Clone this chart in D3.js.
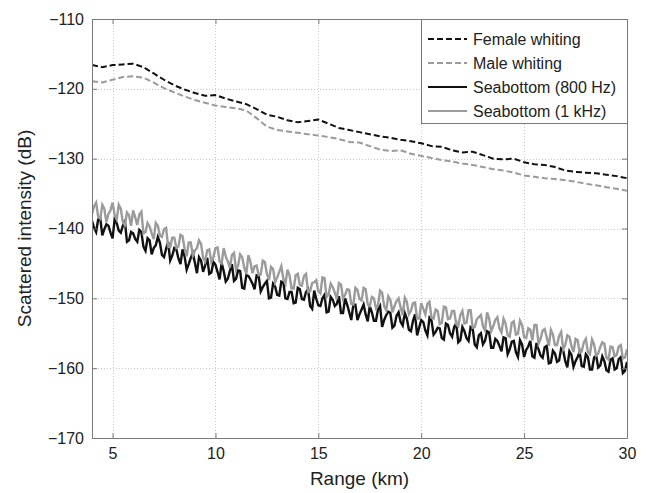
<!DOCTYPE html>
<html>
<head>
<meta charset="utf-8">
<script src="https://cdn.jsdelivr.net/npm/d3@7"></script>
<style>
  body { margin: 0; background: #fff; }
  text { font-family: "Liberation Sans", Arial, Helvetica, sans-serif; fill: #222; }
</style>
</head>
<body>
<div id="canvas"></div>
<script>
// dimensions
const width = 646;
const height = 493;
const margins = {top: 19, right: 19, bottom: 55, left: 92};
const dataWidth = width - margins.left - margins.right;
const dataHeight = height - margins.top - margins.bottom;

// data
const xTicks = [5, 10, 15, 20, 25, 30];
const yTicks = [-170, -160, -150, -140, -130, -120, -110];
const seriesNames = ["Female whiting", "Male whiting", "Seabottom (800 Hz)", "Seabottom (1 kHz)"];

// whiting curves sampled every 0.5 km from 4 to 30 km
const whitingStart = 4, whitingStep = 0.5;
const femaleWhiting = [
  -116.6, -116.9, -116.6, -116.5, -116.4, -116.9, -117.8, -118.7, -119.5, -120.1,
  -120.6, -121.0, -120.9, -121.4, -121.8, -122.2, -122.9, -123.7, -124.0, -124.5,
  -124.8, -124.6, -124.4, -125.0, -125.6, -125.9, -126.2, -126.5, -126.8, -127.0,
  -127.3, -127.5, -127.8, -128.2, -128.3, -128.8, -129.1, -129.0, -129.5, -130.0,
  -130.1, -130.0, -130.5, -130.8, -130.9, -131.2, -131.7, -131.9, -132.0, -132.1,
  -132.3, -132.5, -132.8
];
const maleWhiting = [
  -118.9, -119.1, -118.7, -118.3, -118.2, -118.4, -119.1, -119.9, -120.5, -121.1,
  -121.6, -122.0, -122.4, -122.6, -122.8, -123.1, -124.2, -125.4, -125.9, -126.1,
  -126.3, -126.5, -126.7, -126.9, -127.2, -127.6, -127.7, -128.2, -128.7, -128.9,
  -128.8, -129.3, -129.6, -129.9, -130.2, -130.4, -130.7, -130.9, -131.2, -131.5,
  -131.7, -132.0, -132.4, -132.6, -132.8, -132.9, -133.1, -133.3, -133.6, -133.8,
  -134.1, -134.3, -134.6
];

// seabottom curves sampled every 0.1 km from 4 to 30 km
const seaStart = 4, seaStep = 0.1;
const seabottom800 = [
  -138.9, -139.9, -140.5, -138.7, -138.5, -141.0, -140.1, -139.4, -139.6, -140.6,
  -141.4, -138.7, -139.2, -140.3, -140.6, -139.6, -139.0, -141.9, -141.7, -140.5,
  -140.7, -141.5, -141.9, -140.2, -140.5, -142.6, -143.2, -141.4, -141.7, -143.7,
  -142.8, -142.4, -141.2, -142.0, -143.8, -144.1, -142.9, -141.9, -144.6, -143.9,
  -142.8, -143.0, -144.3, -145.1, -143.0, -144.0, -145.9, -145.1, -144.2, -143.5,
  -144.9, -146.4, -144.1, -144.6, -146.2, -145.3, -144.2, -146.5, -146.3, -144.8,
  -145.2, -146.2, -147.3, -144.9, -146.1, -147.6, -147.2, -146.1, -145.1, -147.5,
  -147.2, -146.0, -146.1, -148.5, -148.6, -146.7, -146.8, -147.3, -147.9, -148.7,
  -146.7, -146.8, -149.0, -148.4, -147.9, -147.5, -150.0, -149.9, -147.9, -148.3,
  -149.5, -149.6, -147.6, -147.7, -150.0, -150.1, -149.1, -149.1, -150.7, -150.6,
  -148.5, -148.7, -150.1, -150.2, -149.1, -148.7, -151.1, -151.5, -148.9, -150.1,
  -151.0, -151.1, -150.0, -149.5, -152.0, -151.9, -149.8, -150.2, -151.1, -150.8,
  -149.7, -152.1, -152.1, -150.0, -150.9, -152.0, -153.1, -150.9, -150.9, -153.1,
  -152.3, -151.6, -150.9, -152.3, -153.3, -151.1, -152.0, -153.2, -153.2, -151.6,
  -151.1, -154.1, -153.1, -152.4, -151.9, -152.1, -154.2, -153.9, -152.5, -152.0,
  -153.4, -153.9, -152.1, -152.9, -154.5, -154.7, -153.2, -152.3, -155.3, -154.2,
  -153.1, -153.4, -154.6, -155.3, -152.8, -153.2, -155.2, -154.8, -154.2, -154.3,
  -155.7, -155.9, -153.6, -153.8, -155.0, -155.5, -154.1, -153.6, -156.3, -156.0,
  -154.1, -154.7, -155.7, -156.1, -154.1, -154.3, -156.6, -157.0, -155.3, -155.0,
  -156.6, -156.1, -154.7, -154.9, -157.1, -157.1, -155.8, -156.1, -156.8, -157.6,
  -155.6, -155.7, -158.0, -157.3, -156.2, -156.1, -157.7, -158.4, -156.0, -156.6,
  -158.4, -157.4, -156.9, -156.1, -158.3, -158.5, -156.4, -157.3, -158.2, -158.5,
  -157.0, -156.8, -159.3, -159.2, -157.5, -157.9, -159.1, -158.9, -157.2, -157.5,
  -159.0, -159.9, -157.6, -158.1, -159.8, -159.0, -158.4, -157.7, -159.7, -159.8,
  -158.0, -158.4, -160.2, -160.2, -158.5, -158.2, -159.9, -159.6, -158.3, -159.0,
  -160.3, -160.5, -158.8, -158.6, -160.2, -160.0, -158.7, -158.4, -160.7, -160.4,
  -159.1
];
const seabottom1k = [
  -137.9, -136.8, -136.3, -138.3, -138.6, -136.6, -137.2, -139.1, -137.9, -137.4,
  -136.3, -138.1, -138.7, -136.6, -137.2, -139.1, -139.5, -137.7, -138.1, -139.6,
  -137.4, -138.4, -139.5, -138.0, -137.6, -140.7, -140.5, -139.2, -139.7, -140.7,
  -141.5, -139.2, -139.6, -141.0, -141.2, -140.1, -139.9, -142.6, -142.7, -141.3,
  -141.3, -142.8, -142.6, -140.9, -141.1, -142.9, -144.0, -142.0, -142.0, -143.9,
  -143.2, -142.8, -141.7, -142.2, -144.2, -144.7, -143.1, -143.0, -144.8, -144.1,
  -142.8, -142.7, -144.7, -145.0, -142.8, -144.0, -144.7, -145.6, -143.8, -143.5,
  -145.9, -145.3, -143.7, -144.1, -145.6, -146.5, -143.8, -144.8, -146.4, -145.4,
  -145.3, -146.7, -146.6, -144.6, -144.8, -146.5, -147.4, -145.5, -145.8, -147.7,
  -147.0, -146.2, -145.4, -147.2, -147.9, -145.9, -146.7, -148.6, -148.6, -146.7,
  -146.5, -148.1, -148.2, -146.8, -146.5, -149.1, -149.0, -147.8, -147.7, -147.4,
  -149.0, -149.3, -147.0, -147.1, -149.8, -149.4, -147.9, -148.4, -149.2, -150.1,
  -147.8, -148.0, -150.1, -149.5, -148.7, -148.8, -150.8, -150.9, -148.5, -148.8,
  -150.1, -150.3, -148.5, -148.7, -150.9, -151.1, -149.8, -150.0, -151.4, -151.0,
  -148.9, -149.2, -151.1, -151.7, -149.7, -150.2, -152.0, -151.1, -150.4, -150.0,
  -151.3, -152.4, -149.9, -150.5, -152.3, -151.8, -150.7, -150.6, -152.9, -152.9,
  -150.7, -151.5, -152.3, -150.8, -150.5, -152.8, -152.9, -151.6, -151.8, -153.7,
  -153.5, -151.2, -151.3, -153.0, -152.9, -151.8, -151.8, -153.7, -154.0, -152.4,
  -151.8, -153.6, -153.5, -151.7, -151.7, -154.2, -154.1, -153.0, -152.7, -152.4,
  -154.0, -154.6, -152.0, -152.9, -154.7, -154.0, -153.1, -152.7, -154.3, -154.9,
  -152.9, -153.6, -155.3, -155.5, -153.5, -153.3, -155.2, -155.1, -153.2, -153.8,
  -155.6, -155.7, -154.3, -154.5, -156.0, -153.8, -153.8, -156.5, -155.8, -154.6,
  -154.4, -155.6, -156.8, -154.5, -155.2, -156.7, -156.7, -155.4, -154.8, -157.3,
  -156.7, -155.3, -155.5, -156.8, -157.7, -155.8, -156.0, -157.8, -157.6, -156.3,
  -155.8, -157.7, -158.0, -155.9, -156.6, -158.2, -157.9, -157.0, -156.3, -156.5,
  -158.5, -158.8, -156.9, -157.0, -158.3, -158.1, -156.9, -156.7, -158.6, -158.5,
  -157.3
];

function toPoints(values, start, step) {
  return values.map((v, i) => ({km: start + i * step, db: v}));
}

const svg = d3.select("#canvas").append("svg")
  .attr("width", width)
  .attr("height", height);

const dataArea = svg.append("g")
  .attr("transform", `translate(${margins.left}, ${margins.top})`);

const x = d3.scaleLinear().domain([4, 30]).range([0, dataWidth]);
const y = d3.scaleLinear().domain([-170, -110]).range([dataHeight, 0]);

// grid (dotted)
const grid = dataArea.append("g")
  .attr("stroke", "#c8c8c8")
  .attr("stroke-width", 1)
  .attr("stroke-dasharray", "1,2");
grid.selectAll(".gx").data(xTicks).enter().append("line")
  .attr("x1", d => Math.round(x(d)) + 0.5).attr("x2", d => Math.round(x(d)) + 0.5)
  .attr("y1", 0).attr("y2", dataHeight);
grid.selectAll(".gy").data(yTicks).enter().append("line")
  .attr("y1", d => Math.round(y(d)) + 0.5).attr("y2", d => Math.round(y(d)) + 0.5)
  .attr("x1", 0).attr("x2", dataWidth);

// clip
svg.append("clipPath").attr("id", "clip")
  .append("rect").attr("width", dataWidth).attr("height", dataHeight);

const line = d3.line()
  .x(d => x(d.km))
  .y(d => y(d.db));

const lines = dataArea.append("g").attr("clip-path", "url(#clip)");

const styles = [
  {color: "#111", dash: "6,3", w: 2},
  {color: "#9b9b9b", dash: "6,3", w: 2},
  {color: "#111", dash: null, w: 2.4},
  {color: "#9b9b9b", dash: null, w: 2.4}
];
const curves = [
  toPoints(femaleWhiting, whitingStart, whitingStep),
  toPoints(maleWhiting, whitingStart, whitingStep),
  toPoints(seabottom800, seaStart, seaStep),
  toPoints(seabottom1k, seaStart, seaStep)
];

curves.forEach((pts, i) => {
  lines.append("path")
    .datum(pts)
    .attr("fill", "none")
    .attr("stroke", styles[i].color)
    .attr("stroke-width", styles[i].w)
    .attr("stroke-linejoin", "miter")
    .attr("stroke-dasharray", styles[i].dash)
    .attr("d", line);
});

// axes (MATLAB box style, ticks inside)
const tickLen = 5;
const xAxisGroup = dataArea.append("g")
  .attr("transform", `translate(0, ${dataHeight})`)
  .call(d3.axisBottom(x).tickValues(xTicks).tickSize(-tickLen).tickPadding(10).tickSizeOuter(0));
const yAxisGroup = dataArea.append("g")
  .call(d3.axisLeft(y).tickValues(yTicks).tickSize(-tickLen).tickPadding(8).tickSizeOuter(0));
const xTop = dataArea.append("g")
  .call(d3.axisTop(x).tickValues(xTicks).tickSize(-tickLen).tickFormat("").tickSizeOuter(0));
const yRight = dataArea.append("g")
  .attr("transform", `translate(${dataWidth}, 0)`)
  .call(d3.axisRight(y).tickValues(yTicks).tickSize(-tickLen).tickFormat("").tickSizeOuter(0));

[xAxisGroup, yAxisGroup, xTop, yRight].forEach(g => {
  g.selectAll("path, line").attr("stroke", "#7a7a7a");
  g.selectAll("text")
    .attr("font-size", 16)
    .attr("font-family", "'Liberation Sans', Arial, sans-serif")
    .attr("fill", "#222");
});

// X axis label
svg.append("text")
  .attr("text-anchor", "middle")
  .attr("x", margins.left + dataWidth / 2)
  .attr("y", 485)
  .attr("font-size", 19)
  .text("Range (km)");

// Y axis label
svg.append("text")
  .attr("text-anchor", "middle")
  .attr("x", 31)
  .attr("y", margins.top + dataHeight / 2)
  .attr("font-size", 19)
  .attr("transform", `rotate(-90, 31, ${margins.top + dataHeight / 2})`)
  .text("Scattered intensity (dB)");

// legend
const legend = svg.append("g")
  .attr("transform", `translate(${margins.left + x(4) + 329}, ${margins.top})`);
legend.append("rect")
  .attr("x", 0.5).attr("y", 0.5)
  .attr("width", 206).attr("height", 104)
  .attr("fill", "#fff")
  .attr("stroke", "#7a7a7a");
const items = legend.selectAll(".item").data(seriesNames).enter().append("g")
  .attr("transform", (d, i) => `translate(0, ${20 + i * 24})`);
items.append("line")
  .attr("x1", 7).attr("x2", 46)
  .attr("stroke", (d, i) => styles[i].color)
  .attr("stroke-width", 2)
  .attr("stroke-dasharray", (d, i) => styles[i].dash);
items.append("text")
  .attr("x", 52)
  .attr("dy", "0.35em")
  .attr("font-size", 16)
  .text(d => d);
</script>
</body>
</html>
